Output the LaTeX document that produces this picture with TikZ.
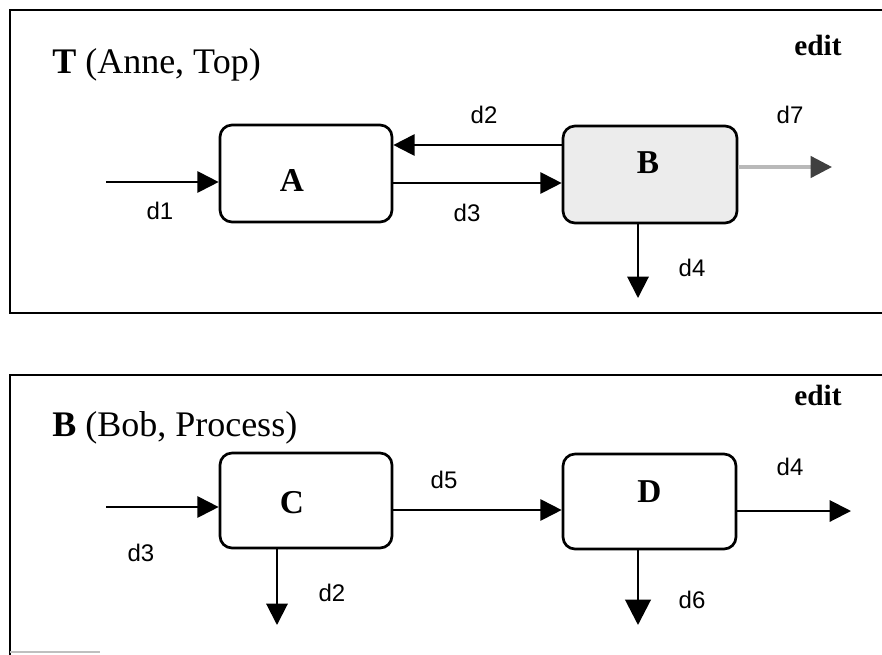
\documentclass[tikz,border=0pt]{standalone}
\usepackage{fontspec}
\setmainfont{Liberation Serif}
\newfontfamily\flowfont{Liberation Sans}
\usetikzlibrary{arrows.meta}
\tikzset{
  panel/.style={line width=1.5pt, black},
  proc/.style={draw, line width=2pt, rounded corners=9pt, inner sep=0pt},
  lettr/.style={font=\fontsize{25}{28}\selectfont\bfseries, inner sep=0pt},
  flow/.style={line width=1.5pt, -{Triangle[length=16pt,width=16pt]}},
  flowlbl/.style={font=\flowfont\fontsize{18}{21}\selectfont, inner sep=0pt},
  title/.style={font=\fontsize{27}{30}\selectfont, anchor=base west, inner sep=0pt},
  editlbl/.style={font=\fontsize{22}{25}\selectfont\bfseries, inner sep=0pt}
}
\begin{document}
\begin{tikzpicture}[x=0.75pt,y=-0.75pt]
  \fill[white] (0,0) rectangle (882,654);
  \useasboundingbox (0,0) rectangle (882,654);
  \clip (0,0) rectangle (882,654);

  % ---- upper panel: T (Anne, Top) ----
  \draw[panel] (900,10) -- (10,10) -- (10,313) -- (900,313);
  \node[title] (ttl1) at (52,73) {\textbf{T} (Anne, Top)};
  \node[editlbl] (ed1) at (818,45) {edit};

  \node[proc, minimum width=129pt, minimum height=72.75pt,
        label={[lettr, shift={(-14,6.5)}]center:A}] (A) at (306,173.5) {};
  \node[proc, fill=gray!15, minimum width=130.5pt, minimum height=72.75pt,
        label={[lettr, shift={(-2,-11.5)}]center:B}] (B) at (650,174.5) {};

  \coordinate (in1) at (106,182);
  \coordinate (out7) at (832,167);
  \coordinate (out4) at (638,298);

  \draw[flow] (in1) -- (A.west |- in1);
  \draw[flow] (B.west |- 0,145) -- (A.east |- 0,145);
  \draw[flow] (A.east |- 0,183) -- (B.west |- 0,183);
  \draw[line width=2.5pt, gray!55, -{Triangle[length=16pt,width=16pt,color=black!75]}]
    (B.east |- out7) -- (out7);
  \draw[flow] (B.south -| out4) -- (out4);

  \node[flowlbl] (l1) at (160,211) {d1};
  \node[flowlbl] (l2) at (484,115) {d2};
  \node[flowlbl] (l3) at (467,213) {d3};
  \node[flowlbl] (l7) at (790,115) {d7};
  \node[flowlbl] (l4) at (692,268) {d4};

  % ---- lower panel: B (Bob, Process) ----
  \draw[panel] (900,375) -- (10,375) -- (10,660);
  \draw[line width=1.2pt, gray!50] (10,652) -- (100,652);
  \node[title] (ttl2) at (52,436) {\textbf{B} (Bob, Process)};
  \node[editlbl] (ed2) at (818,395) {edit};

  \node[proc, minimum width=129pt, minimum height=71.25pt,
        label={[lettr, shift={(-14,2.5)}]center:C}] (C) at (306,500.5) {};
  \node[proc, minimum width=129.75pt, minimum height=71.25pt,
        label={[lettr, shift={(0,-9.5)}]center:D}] (D) at (649.5,501.5) {};

  \coordinate (in3) at (106,507);
  \coordinate (o4) at (851,511);
  \coordinate (o2) at (277,625);
  \coordinate (o6) at (638,625);

  \draw[flow] (in3) -- (C.west |- in3);
  \draw[flow] (C.east |- 0,510) -- (D.west |- 0,510);
  \draw[flow] (D.east |- o4) -- (o4);
  \draw[flow] (C.south -| o2) -- (o2);
  \draw[flow, line width=2.2pt, -{Triangle[length=19pt,width=19pt]}] (D.south -| o6) -- (o6);

  \node[flowlbl] (m3) at (141,553) {d3};
  \node[flowlbl] (m5) at (444,480) {d5};
  \node[flowlbl] (m4) at (790,467) {d4};
  \node[flowlbl] (m2) at (332,593) {d2};
  \node[flowlbl] (m6) at (692,600) {d6};
\end{tikzpicture}
\end{document}
